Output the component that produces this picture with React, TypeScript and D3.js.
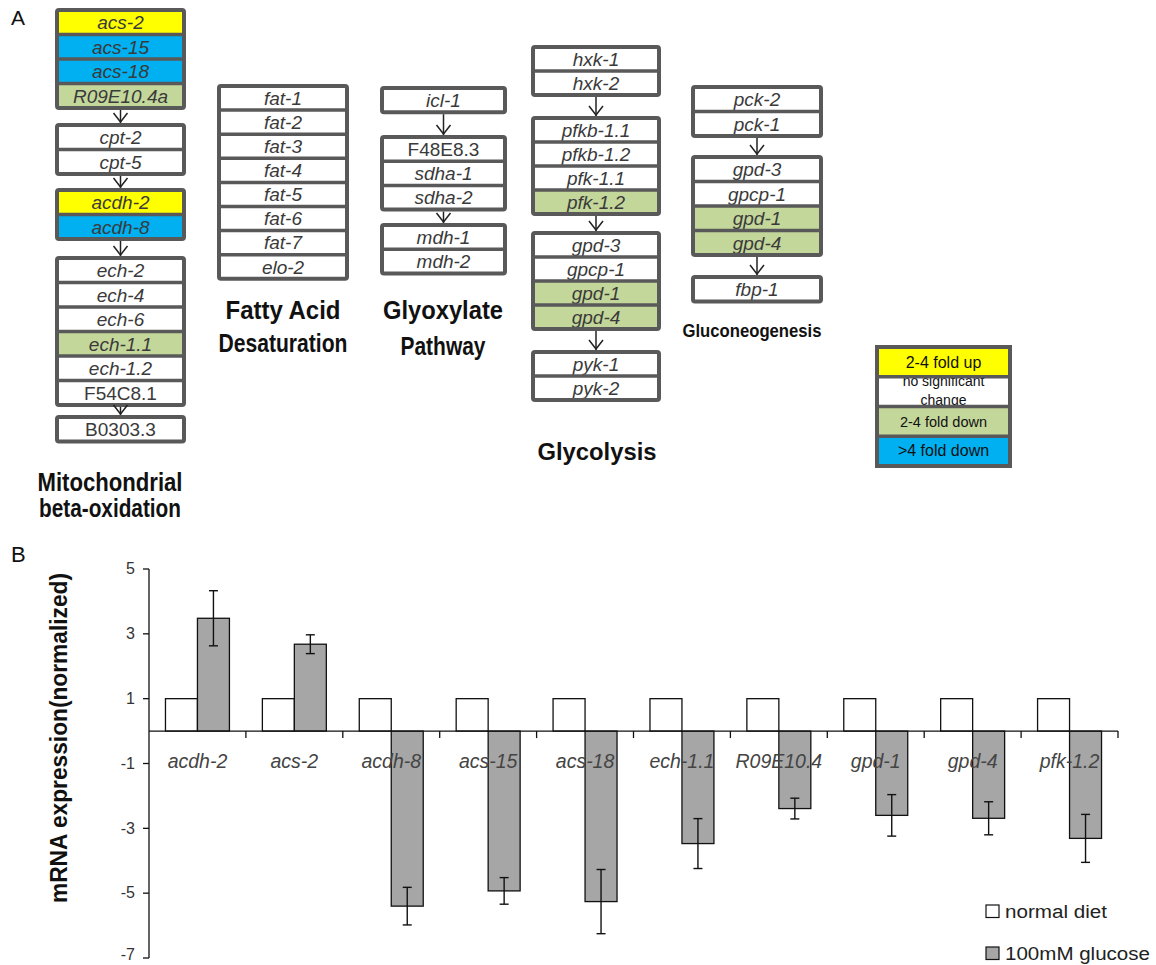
import React from "react";
import * as d3 from "d3";

const FONT = "'Liberation Sans', Arial, Helvetica, sans-serif";

// panel A: genes of each pathway, grouped by reaction step
const betaOxidation = [
  ["acs-2", "acs-15", "acs-18", "R09E10.4a"],
  ["cpt-2", "cpt-5"],
  ["acdh-2", "acdh-8"],
  ["ech-2", "ech-4", "ech-6", "ech-1.1", "ech-1.2", "F54C8.1"],
  ["B0303.3"],
];
const fattyAcid = [["fat-1", "fat-2", "fat-3", "fat-4", "fat-5", "fat-6", "fat-7", "elo-2"]];
const glyoxylate = [["icl-1"], ["F48E8.3", "sdha-1", "sdha-2"], ["mdh-1", "mdh-2"]];
const glycolysis = [
  ["hxk-1", "hxk-2"],
  ["pfkb-1.1", "pfkb-1.2", "pfk-1.1", "pfk-1.2"],
  ["gpd-3", "gpcp-1", "gpd-1", "gpd-4"],
  ["pyk-1", "pyk-2"],
];
const gluconeogenesis = [["pck-2", "pck-1"], ["gpd-3", "gpcp-1", "gpd-1", "gpd-4"], ["fbp-1"]];
const pathwayTitles = [
  ["Mitochondrial", "beta-oxidation"],
  ["Fatty Acid", "Desaturation"],
  ["Glyoxylate", "Pathway"],
  ["Glycolysis"],
  ["Gluconeogenesis"],
];

// fold change classes
const upGenes = ["acs-2", "acdh-2"];
const down2Genes = ["R09E10.4a", "ech-1.1", "pfk-1.2", "gpd-1", "gpd-4"];
const down4Genes = ["acs-15", "acs-18", "acdh-8"];
const uprightGenes = ["F48E8.3", "F54C8.1", "B0303.3"];
const statusLabels = ["2-4 fold up", "no significant change", "2-4 fold down", ">4 fold down"];

// panel B: qPCR
const genes = ["acdh-2", "acs-2", "acdh-8", "acs-15", "acs-18", "ech-1.1", "R09E10.4", "gpd-1", "gpd-4", "pfk-1.2"];
const normalDiet = [1, 1, 1, 1, 1, 1, 1, 1, 1, 1];
const glucose = [3.48, 2.68, -5.4, -4.93, -5.26, -3.47, -2.39, -2.6, -2.69, -3.31];
const glucoseErr = [0.85, 0.29, 0.58, 0.41, 0.99, 0.77, 0.32, 0.64, 0.51, 0.74];
const yTicks = [5, 3, 1, -1, -3, -5, -7];
const seriesNames = ["normal diet", "100mM glucose"];

const statusColor = ["#ffff00", "#ffffff", "#c4d79b", "#00b0f0"];
const BORDER = "#595959";

function statusOf(g: string) {
  if (upGenes.includes(g)) return 0;
  if (down2Genes.includes(g)) return 2;
  if (down4Genes.includes(g)) return 3;
  return 1;
}

// layout of the pathway columns
const columns = [
  { groups: betaOxidation, x: 57, w: 127, tops: [10, 125, 190, 258, 417], rowH: 24.5,
    title: { cx: 110, ys: [491, 517], fs: 25, lens: [145, 142] } },
  { groups: fattyAcid, x: 219, w: 128, tops: [86], rowH: 24.1,
    title: { cx: 283, ys: [319, 352], fs: 25, lens: [115, 129] } },
  { groups: glyoxylate, x: 382, w: 123, tops: [88, 137, 225], rowH: 24.2,
    title: { cx: 443, ys: [319, 355], fs: 25, lens: [120, 85] } },
  { groups: glycolysis, x: 533, w: 126, tops: [47, 118, 233, 352], rowH: 24,
    title: { cx: 597, ys: [460], fs: 23, lens: [119] } },
  { groups: gluconeogenesis, x: 693, w: 128, tops: [87, 157, 277], rowH: 24.5,
    title: { cx: 752, ys: [337], fs: 18, lens: [139] } },
];

function Pathway({ col, titles }: any) {
  const cx = col.x + col.w / 2;
  return (
    <g>
      {col.groups.map((grp: string[], gi: number) => {
        const top = col.tops[gi];
        const rows = d3.scaleBand<number>().domain(d3.range(grp.length)).range([top, top + grp.length * col.rowH]);
        const bottom = top + grp.length * col.rowH;
        return (
          <g key={gi}>
            {grp.map((g, i) => (
              <g key={g + i}>
                <rect x={col.x} y={rows(i)} width={col.w} height={rows.bandwidth()} fill={statusColor[statusOf(g)]} />
                <text x={cx} y={(rows(i) as number) + rows.bandwidth() / 2} dy="0.36em" textAnchor="middle"
                  fontSize={19} fontStyle={uprightGenes.includes(g) ? "normal" : "italic"} fill="#3a3a3a">{g}</text>
              </g>
            ))}
            {grp.slice(1).map((g, i) => (
              <line key={"s" + i} x1={col.x} x2={col.x + col.w} y1={rows(i + 1)} y2={rows(i + 1)} stroke={BORDER} strokeWidth={3.5} />
            ))}
            <rect x={col.x} y={top} width={col.w} height={bottom - top} fill="none" stroke={BORDER} strokeWidth={4} rx={2} />
            {gi < col.groups.length - 1 && (
              <g stroke="#222" strokeWidth={1.5} fill="none">
                <line x1={cx} x2={cx} y1={bottom + 2} y2={col.tops[gi + 1] - 2} />
                <path d={`M${cx - 7},${col.tops[gi + 1] - 12}L${cx},${col.tops[gi + 1] - 3}L${cx + 7},${col.tops[gi + 1] - 12}`} />
              </g>
            )}
          </g>
        );
      })}
      {titles.map((t: string, i: number) => (
        <text key={t} x={col.title.cx} y={col.title.ys[i]} textAnchor="middle" fontWeight="bold" fontSize={col.title.fs}
          textLength={col.title.lens[i]} lengthAdjust="spacingAndGlyphs" fill="#111">{t}</text>
      ))}
    </g>
  );
}

function StatusLegend() {
  const x = 877, w = 133, top = 347, rowH = 29.75;
  const rows = d3.scaleBand<number>().domain(d3.range(statusLabels.length)).range([top, top + rowH * 4]);
  const textStyle = [
    { fs: 16, ys: [21] },
    { fs: 14, ys: [9, 28] },
    { fs: 14.5, ys: [20] },
    { fs: 16, ys: [20] },
  ];
  return (
    <g>
      {statusLabels.map((s, i) => {
        const lines = i === 1 ? ["no significant", "change"] : [s];
        return (
          <g key={s}>
            <rect x={x} y={rows(i)} width={w} height={rows.bandwidth()} fill={statusColor[i]} />
            {lines.map((l, j) => (
              <text key={l} x={x + w / 2} y={(rows(i) as number) + textStyle[i].ys[j]} textAnchor="middle"
                fontSize={textStyle[i].fs} fill="#111">{l}</text>
            ))}
          </g>
        );
      })}
      {[1, 2, 3].map((i) => (
        <line key={i} x1={x} x2={x + w} y1={rows(i)} y2={rows(i)} stroke={BORDER} strokeWidth={3.5} />
      ))}
      <rect x={x} y={top} width={w} height={rowH * 4} fill="none" stroke={BORDER} strokeWidth={4} />
    </g>
  );
}

function BarChart() {
  const x0 = 149, x1 = 1118;
  const x = d3.scaleBand().domain(genes).range([x0, x1]);
  const sub = d3.scaleBand().domain(seriesNames).range([0, x.bandwidth()]).paddingOuter(0.515);
  const y = d3.scaleLinear().domain([-7, 5]).range([958, 569]);
  const y0 = y(0);
  const fills = ["#ffffff", "#a6a6a6"];
  const series = [normalDiet, glucose];
  return (
    <g>
      {genes.map((g, i) => (
        <g key={g}>
          {series.map((vals, s) => {
            const v = vals[i];
            return (
              <rect key={s} x={(x(g) as number) + (sub(seriesNames[s]) as number)} width={sub.bandwidth()}
                y={Math.min(y(v), y0)} height={Math.abs(y(v) - y0)} fill={fills[s]} stroke="#111" strokeWidth={1.3} />
            );
          })}
        </g>
      ))}
      {/* axes */}
      <line x1={x0} x2={x0} y1={y(5)} y2={y(-7)} stroke="#111" strokeWidth={1.3} />
      {yTicks.map((t) => (
        <g key={t}>
          <line x1={x0 - 6} x2={x0} y1={y(t)} y2={y(t)} stroke="#111" strokeWidth={1.3} />
          <text x={x0 - 14} y={Math.min(y(t), 955)} dy="0.33em" textAnchor="end" fontSize={16} fill="#333">{t}</text>
        </g>
      ))}
      <line x1={x0} x2={x1} y1={y0} y2={y0} stroke="#111" strokeWidth={1.3} />
      {genes.map((g) => (
        <line key={g} x1={(x(g) as number) + x.bandwidth()} x2={(x(g) as number) + x.bandwidth()} y1={y0} y2={y0 + 7} stroke="#111" strokeWidth={1.3} />
      ))}
      {/* error bars */}
      {genes.map((g, i) => {
        const cx = (x(g) as number) + (sub(seriesNames[1]) as number) + sub.bandwidth() / 2;
        const hi = y(glucose[i] + glucoseErr[i]), lo = y(glucose[i] - glucoseErr[i]);
        return (
          <g key={g} stroke="#111" strokeWidth={1.4}>
            <line x1={cx} x2={cx} y1={hi} y2={lo} />
            <line x1={cx - 4.5} x2={cx + 4.5} y1={hi} y2={hi} />
            <line x1={cx - 4.5} x2={cx + 4.5} y1={lo} y2={lo} />
          </g>
        );
      })}
      {genes.map((g) => (
        <text key={g} x={(x(g) as number) + x.bandwidth() / 2} y={768} textAnchor="middle" fontSize={19.5}
          fontStyle="italic" fill="#444">{g}</text>
      ))}
      <text transform="translate(67,738) rotate(-90)" textAnchor="middle" fontSize={24} fontWeight="bold"
        textLength={330} lengthAdjust="spacingAndGlyphs" fill="#111">mRNA expression(normalized)</text>
      {seriesNames.map((s, i) => (
        <g key={s}>
          <rect x={986} y={905 + i * 42} width={13} height={12.5} fill={fills[i]} stroke="#111" strokeWidth={1.2} />
          <text x={1005} y={917.5 + i * 42} fontSize={18} fill="#222" textLength={i === 0 ? 102 : 145}
            lengthAdjust="spacingAndGlyphs">{s}</text>
        </g>
      ))}
    </g>
  );
}

export default function App() {
  return (
    <svg width={1156} height={965} viewBox="0 0 1156 965" style={{ display: "block", position: "absolute", left: 0, top: 0 }}
      fontFamily={FONT}>
      <rect width={1156} height={965} fill="#fff" />
      <text x={11} y={25} fontSize={21} fill="#111">A</text>
      <text x={11} y={562} fontSize={22} fill="#111">B</text>
      {columns.map((c, i) => (
        <Pathway key={i} col={c} titles={pathwayTitles[i]} />
      ))}
      <StatusLegend />
      <BarChart />
    </svg>
  );
}
